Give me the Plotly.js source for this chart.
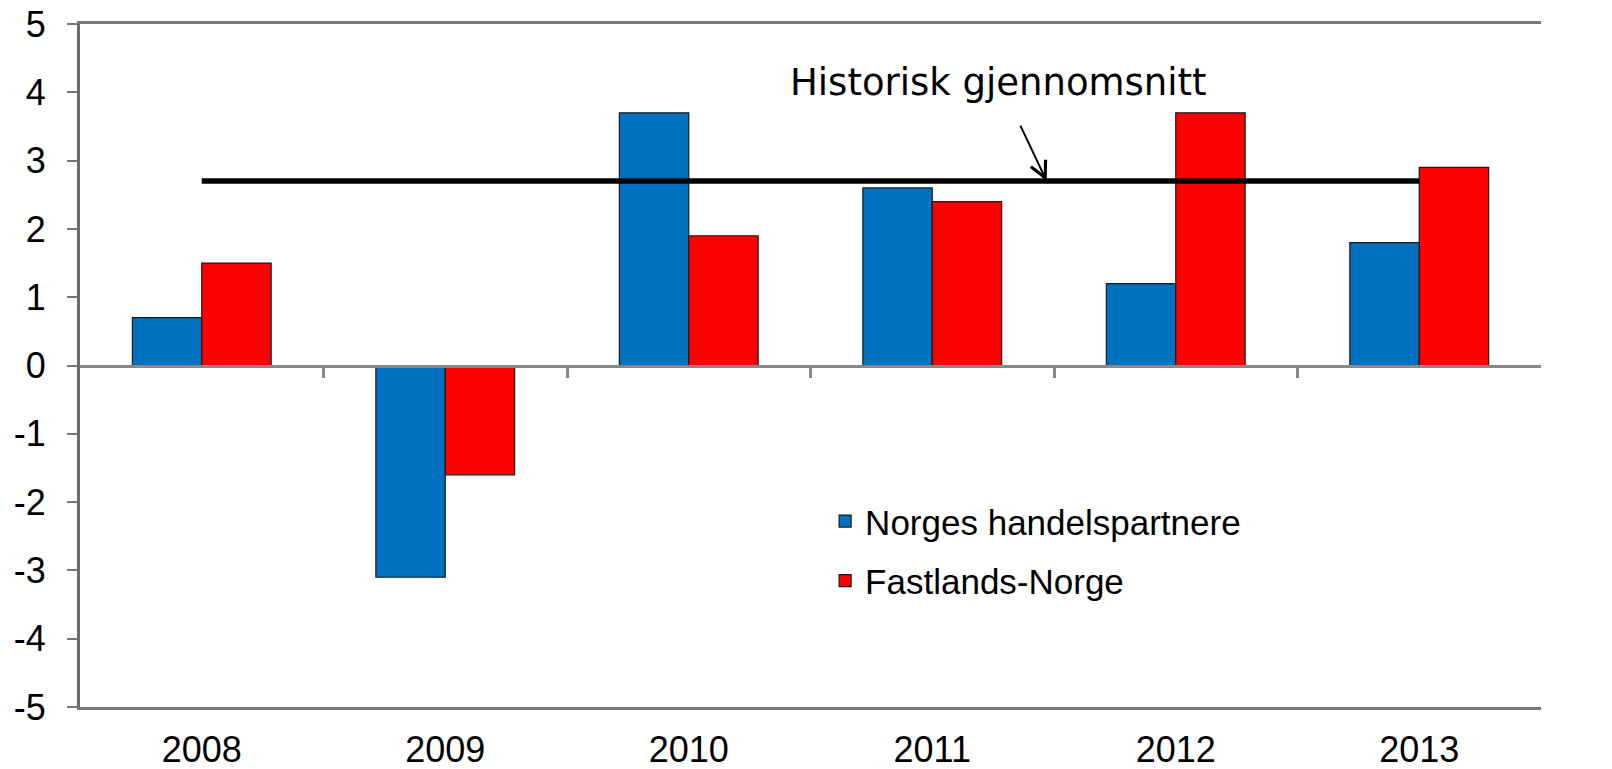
<!DOCTYPE html>
<html>
<head>
<meta charset="utf-8">
<script src="https://cdn.plot.ly/plotly-3.0.1.min.js"></script>
<style>html,body{margin:0;padding:0;background:#fff;}#chart{width:1612px;height:769px;}</style>
</head>
<body>
<div id="chart"></div>
<script>
const years = ['2008', '2009', '2010', '2011', '2012', '2013'];
const handelspartnere = [0.7, -3.1, 3.7, 2.6, 1.2, 1.8];
const fastlandsNorge = [1.5, -1.6, 1.9, 2.4, 3.7, 2.9];
const historiskX = ['2008', '2013'];
const historiskY = [2.7, 2.7];
const yTicks = [-5, -4, -3, -2, -1, 0, 1, 2, 3, 4, 5];
const yTickText = ['-5', '-4', '-3', '-2', '-1', '0', '1', '2', '3', '4', '5'];
const boundaryTicks = [0.5, 1.5, 2.5, 3.5, 4.5];

const fam = 'Liberation Sans, Arial, sans-serif';
const legendFont = {family: fam, size: 35, color: '#000'};
const xFont = {family: fam, size: 36, color: '#000'};
const yFont = {family: fam, size: 36, color: '#000'};

const traces = [
  {type: 'bar', name: 'Norges handelspartnere', x: years, y: handelspartnere, legendgroup: 'a',
   marker: {color: '#0070C0', line: {color: '#1a1a1a', width: 1.2}}},
  {type: 'bar', name: 'Fastlands-Norge', x: years, y: fastlandsNorge, legendgroup: 'b',
   marker: {color: '#FF0000', line: {color: '#1a1a1a', width: 1.2}}},
  {type: 'scatter', mode: 'lines', x: historiskX, y: historiskY, showlegend: false,
   line: {color: '#000', width: 5.5}, hoverinfo: 'skip'},
  {type: 'scatter', mode: 'markers', x: [0], y: [0], xaxis: 'x2', yaxis: 'y', showlegend: false,
   marker: {opacity: 0, size: 1}, hoverinfo: 'skip'}
];

const layout = {
  width: 1612, height: 769,
  margin: {l: 80, r: 71, t: 24, b: 62},
  paper_bgcolor: '#fff', plot_bgcolor: '#fff',
  barmode: 'group', bargap: 0.43, bargroupgap: 0,
  showlegend: true,
  legend: {x: 0.51, y: 0.315, xanchor: 'left', yanchor: 'top', bgcolor: 'rgba(0,0,0,0)',
           font: legendFont, traceorder: 'grouped', tracegroupgap: 11},
  xaxis: {type: 'category', range: [-0.5, 5.5], showline: true, mirror: true,
          linecolor: '#777', linewidth: 3, ticks: '', showgrid: false, zeroline: false,
          tickfont: xFont, ticklabelstandoff: 9},
  xaxis2: {overlaying: 'x', anchor: 'free', position: 0.5, type: 'linear', range: [-0.5, 5.5],
           tickmode: 'array', tickvals: boundaryTicks, ticks: 'outside', ticklen: 10, tickwidth: 3,
           tickcolor: '#888', showticklabels: false, showline: true, linecolor: '#888', linewidth: 3,
           showgrid: false, zeroline: false, side: 'bottom'},
  yaxis: {range: [-5, 5], tickmode: 'array', tickvals: yTicks, ticktext: yTickText, ticks: 'outside', ticklen: 10,
          tickwidth: 2, tickcolor: '#777', showline: true, linecolor: '#6b6b6b', linewidth: 3,
          showgrid: false, zeroline: false, tickfont: yFont, ticklabelstandoff: 14},
  yaxis2: {overlaying: 'y', side: 'right', anchor: 'x', range: [-5, 5], tickmode: 'array', tickvals: yTicks,
           ticktext: yTickText, ticks: 'outside', ticklen: 12, tickwidth: 2, tickcolor: '#999', showline: true,
           linecolor: '#8c8c8c', linewidth: 3, showgrid: false, zeroline: false, tickfont: yFont,
           ticklabelstandoff: 25},
  annotations: [
    {xref: 'x', yref: 'y', x: 3.27, y: 4.15, text: 'Historisk gjennomsnitt', showarrow: false,
     xanchor: 'center', yanchor: 'middle',
     font: {family: 'DejaVu Sans, Verdana, sans-serif', size: 37, color: '#000'}},
    {xref: 'x', yref: 'y', x: 3.47, y: 2.7, ax: -27, ay: -57, showarrow: true, text: '',
     arrowhead: 5, arrowsize: 1.6, arrowwidth: 2, arrowcolor: '#000', standoff: 0}
  ]
};

Plotly.newPlot('chart', traces, layout, {displayModeBar: false, staticPlot: true});
</script>
</body>
</html>
